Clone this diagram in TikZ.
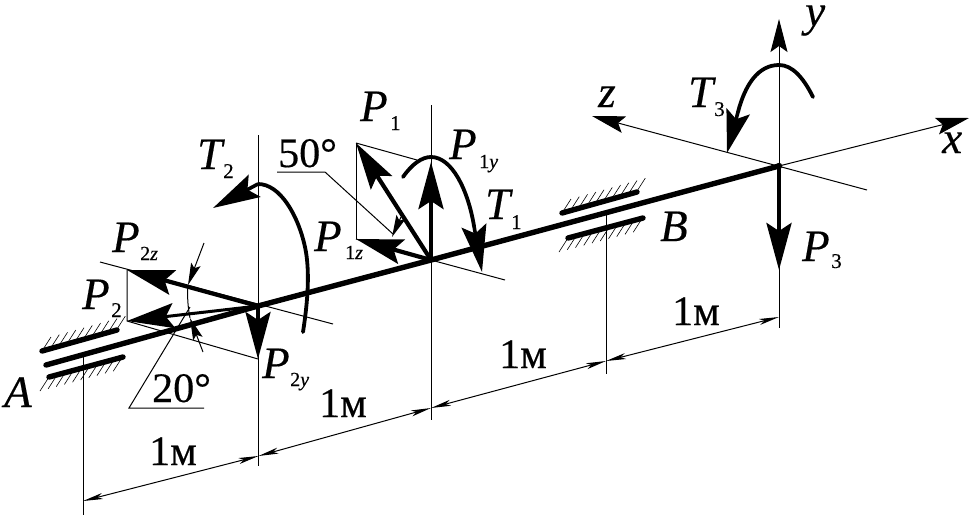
\documentclass[tikz,border=0pt]{standalone}
\usepackage{fontspec}
\setmainfont[FakeBold=0.35]{Liberation Serif}
\usetikzlibrary{arrows.meta,calc}
\newcommand{\fs}[1]{\fontsize{#1}{#1}\selectfont}
\tikzset{
  x=1pt,y=-1pt,
  thinl/.style={line width=1pt,black},
  hatchl/.style={line width=0.6pt,black},
  shaftl/.style={line width=5.4pt,line cap=round,black},
  forcel/.style={line width=4.2pt,black},
  arcl/.style={line width=3.8pt,line cap=round,black},
  bighead/.style={-{Stealth[length=47pt,width=25pt,inset=8pt]}},
  axishead/.style={-{Stealth[length=33pt,width=17pt,inset=6pt]}},
  dimhead/.style={{Stealth[length=20pt,width=6pt,inset=5pt]}-{Stealth[length=20pt,width=6pt,inset=5pt]}},
  anghead/.style={-{Stealth[length=22pt,width=10pt,inset=4pt]}},
  lab/.style={anchor=base west,inner sep=0pt,font=\fs{45}\itshape},
  dimlab/.style={anchor=base west,inner sep=0pt,font=\fs{42}},
  sublab/.style={anchor=base west,inner sep=0pt,font=\fs{21}},
  subsmall/.style={anchor=base west,inner sep=0pt,font=\fs{20}\itshape},
}
\begin{document}
\begin{tikzpicture}
\useasboundingbox (0,0) rectangle (971,515);
% key points
\coordinate (S0) at (46,365);
\coordinate (N2) at (258,306);
\coordinate (N1) at (431,260);
\coordinate (N3) at (779,166);
\coordinate (P2zT) at (127,270);
\coordinate (P2T) at (127,321);
\coordinate (P2yT) at (258,359);
\coordinate (Z2a) at (100,262);
\coordinate (Z2b) at (333,324);
\coordinate (P1T) at (356,143);
\coordinate (P1yT) at (431,162);
\coordinate (P1zT) at (356,239);
\coordinate (P1c) at (417,160);
\coordinate (Z1b) at (505,280);
\coordinate (P3T) at (779,270);
% thin extension and axis lines
\coordinate (V0a) at (83,357); \coordinate (V0b) at (83,515);
\coordinate (V2a) at (258.5,135); \coordinate (V2b) at (258.5,466);
\coordinate (V1a) at (431,105); \coordinate (V1b) at (431,420);
\coordinate (VBa) at (606,213); \coordinate (VBb) at (606,374);
\coordinate (V3b) at (779,328);
\draw[thinl] (V0a) -- (V0b);
\draw[thinl] (V2a) -- (V2b);
\draw[thinl] (V1a) -- (V1b);
\draw[thinl] (VBa) -- (VBb);
\draw[thinl] (N3) -- (V3b);
\draw[thinl] (Z2a) -- (Z2b);
\draw[thinl] (P2zT) -- (P2T) -- (P2yT);
\draw[thinl] (P1T) -- (P1zT);
\draw[thinl] (P1T) -- (P1c);
\draw[thinl] (P1zT) -- (N1) -- (Z1b);
% axes
\coordinate (AxY) at (779,19);
\coordinate (AxZ) at (592,116);
\coordinate (AxZb) at (867,190);
\coordinate (AxX) at (969,118);
\draw[thinl,axishead] (N3) -- (AxY);
\draw[thinl,axishead] (AxZb) -- (AxZ);
\draw[thinl,axishead] (N3) -- (AxX);
% dimension line
\coordinate (D0) at (83,501);
\coordinate (D1) at (258.5,456);
\coordinate (D2) at (431,408);
\coordinate (D3) at (606,361);
\coordinate (D4) at (779,317);
\draw[thinl,dimhead] (D0) -- (D1);
\draw[thinl,dimhead] (D1) -- (D2);
\draw[thinl,dimhead] (D2) -- (D3);
\draw[thinl,dimhead] (D3) -- (D4);
% leaders
\coordinate (L20a) at (204,408); \coordinate (L20b) at (129,408); \coordinate (L20c) at (190,307);
\draw[thinl] (L20a) -- (L20b) -- (L20c);
\coordinate (L50a) at (277,172); \coordinate (L50b) at (325,172); \coordinate (L50c) at (393,234);
\draw[thinl] (L50a) -- (L50b) -- (L50c);
% angle marks
\coordinate (A20a) at (204,243); \coordinate (A20b) at (188,285);
\coordinate (A20c) at (190,318); \coordinate (A20d) at (203,352);
\draw[thinl] (A20b) .. controls (187,296) and (188,308) .. (A20c);
\draw[thinl,anghead] (A20a) -- (A20b);
\draw[thinl,anghead] (A20d) -- (A20c);
\coordinate (A50a) at (401,217); \coordinate (A50b) at (392,237);
\draw[thinl,anghead] (A50a) -- (A50b);
% hatching
\coordinate (AUa) at (42,351); \coordinate (AUb) at (117,330);
\coordinate (ALa) at (49,377); \coordinate (ALb) at (123,357);
\coordinate (BUa) at (562,213); \coordinate (BUb) at (637,192);
\coordinate (BLa) at (568,238); \coordinate (BLb) at (643,218);
\foreach \t in {0,0.11,...,1.01} {
  \draw[hatchl] ($(AUa)!\t!(AUb)$) -- ++(9,-14);
  \draw[hatchl] ($(BUa)!\t!(BUb)$) -- ++(9,-14);
  \draw[hatchl] ($(ALa)!\t!(ALb)$) -- ++(-9,14);
  \draw[hatchl] ($(BLa)!\t!(BLb)$) -- ++(-9,14);
}
% shaft and bearings
\draw[shaftl] (S0) -- (N2) -- (N1) -- (N3);
\draw[shaftl] (AUa) -- (AUb);
\draw[shaftl] (ALa) -- (ALb);
\draw[shaftl] (BUa) -- (BUb);
\draw[shaftl] (BLa) -- (BLb);
\fill[black] (N3) circle (3.2pt);
% forces
\draw[forcel,bighead] (N2) -- (P2zT);
\draw[line width=3pt,bighead] (N2) -- (P2T);
\draw[forcel,bighead] (N2) -- (P2yT);
\draw[forcel,bighead] (N1) -- (P1T);
\draw[forcel,bighead] (N1) -- (P1yT);
\draw[forcel,bighead] (N1) -- (P1zT);
\draw[forcel,bighead] (N3) -- (P3T);
% torques
\coordinate (T1s) at (403,177); \coordinate (T1p) at (431,157);
\coordinate (T1e) at (474,226); \coordinate (T1t) at (482,272);
\draw[arcl] (T1s) .. controls (412,164) and (422,157) .. (T1p) .. controls (452,157) and (468,190) .. (T1e);
\draw[line width=3.6pt,bighead] (T1e) -- (T1t);
\coordinate (T3s) at (813,97); \coordinate (T3p) at (779,65);
\coordinate (T3e) at (738,112); \coordinate (T3t) at (727,153);
\draw[arcl] (T3s) .. controls (803,77) and (792,65) .. (T3p) .. controls (758,65) and (745,85) .. (T3e);
\draw[line width=3.6pt,-{Stealth[length=43pt,width=24pt,inset=8pt]}] (T3e) -- (T3t);
\coordinate (T2s) at (303,332); \coordinate (T2m) at (305,247);
\coordinate (T2p) at (258,184); \coordinate (T2t) at (213,208);
\draw[arcl] (T2s) .. controls (308,300) and (310,270) .. (T2m) .. controls (298,215) and (280,184) .. (T2p);
\draw[line width=3.6pt,bighead] (T2p) -- (T2t);
% labels
\node[lab] (lP2z) at (112,252) {P};
\node[subsmall] (sP2z) at (140,260) {\upshape 2\itshape z};
\node[lab] (lP2) at (82,309) {P};
\node[sublab] (sP2) at (111,317) {2};
\node[lab] (lP2y) at (262,378) {P};
\node[subsmall] (sP2y) at (290,386) {\upshape 2\itshape y};
\node[lab] (lA) at (4,407) {A};
\node[dimlab] (l20) at (152,402) {20°};
\node[dimlab] (d1) at (149,465) {1м};
\node[dimlab] (d2) at (319,417) {1м};
\node[dimlab] (d3) at (499,368) {1м};
\node[dimlab] (d4) at (672,325) {1м};
\node[lab] (lT2) at (197,169) {T};
\node[sublab] (sT2) at (223,178) {2};
\node[dimlab] (l50) at (278,167) {50°};
\node[lab] (lP1) at (360,121) {P};
\node[sublab] (sP1) at (390,130) {1};
\node[lab] (lP1y) at (449,159) {P};
\node[subsmall] (sP1y) at (479,168) {\upshape 1\itshape y};
\node[lab] (lP1z) at (314,251) {P};
\node[subsmall] (sP1z) at (345,259) {\upshape 1\itshape z};
\node[lab] (lT1) at (485,219) {T};
\node[sublab] (sT1) at (511,229) {1};
\node[lab] (lz) at (598,107) {z};
\node[lab] (lT3) at (688,107) {T};
\node[sublab] (sT3) at (714,116) {3};
\node[lab] (ly) at (805,26) {y};
\node[lab] (lx) at (942,153) {x};
\node[lab] (lB) at (660,241) {B};
\node[lab] (lP3) at (802,261) {P};
\node[sublab] (sP3) at (831,268) {3};
\end{tikzpicture}
\end{document}
